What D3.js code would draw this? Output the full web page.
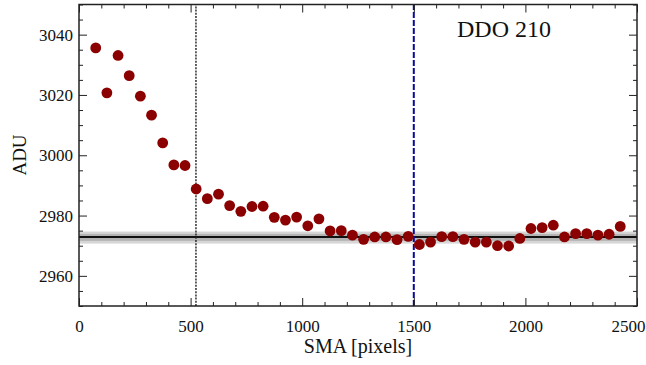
<!DOCTYPE html>
<html>
<head>
<meta charset="utf-8">
<script src="https://cdn.jsdelivr.net/npm/d3@7/dist/d3.min.js"></script>
<style>
  html, body { margin: 0; padding: 0; background: #fff; }
  svg { display: block; }
  svg text { font-family: "Liberation Serif", "Times New Roman", Tinos, Times, "DejaVu Serif", "Noto Serif", serif; fill: #111; }
</style>
</head>
<body>
<svg id="chart" width="646" height="365"></svg>
<script>
// Surface-brightness profile: semi-major axis (pixels) vs. measured level (ADU)
const sma = [75, 125, 175, 225, 275, 325, 375, 425, 475, 525,
             575, 625, 675, 725, 775, 825, 875, 925, 975, 1025,
             1075, 1125, 1175, 1225, 1275, 1325, 1375, 1425, 1475, 1525,
             1575, 1625, 1675, 1725, 1775, 1825, 1875, 1925, 1975, 2025,
             2075, 2125, 2175, 2225, 2275, 2325, 2375, 2425];
const adu = [3035.6, 3020.7, 3033.1, 3026.4, 3019.6, 3013.3, 3004.1, 2996.8, 2996.6, 2988.8,
             2985.6, 2987.1, 2983.3, 2981.4, 2983.0, 2983.1, 2979.4, 2978.5, 2979.5, 2976.6,
             2978.9, 2974.9, 2975.0, 2973.5, 2972.1, 2972.9, 2972.9, 2972.0, 2973.1, 2970.4,
             2971.2, 2973.0, 2973.0, 2972.1, 2971.2, 2971.2, 2970.0, 2969.9, 2972.4, 2975.7,
             2976.0, 2976.8, 2972.9, 2974.0, 2974.0, 2973.5, 2973.8, 2976.4];

// Sky level and its uncertainty bands
const skyLevel = 2972.9;
const skyOuter = [2970.7, 2974.7];
const skyInner = [2971.6, 2973.9];

// Reference radii
const innerRadius = 524;
const outerRadius = 1500;

const xMajorTicks = [0, 500, 1000, 1500, 2000, 2500];
const yMajorTicks = [2960, 2980, 3000, 3020, 3040];
const xDomain = [0, 2500];
const yDomain = [2950, 3050];
const title = "DDO 210";
const xTitle = "SMA [pixels]";
const yTitle = "ADU";

const margin = { left: 79, right: 9, top: 4.5, bottom: 59 };
const W = 646, H = 365;
const svg = d3.select("#chart");

const x = d3.scaleLinear().domain(xDomain).range([margin.left, W - margin.right]);
const y = d3.scaleLinear().domain(yDomain).range([H - margin.bottom, margin.top]);

const xMinor = d3.range(xDomain[0], xDomain[1] + 1, 100).filter(v => !xMajorTicks.includes(v));
const yMinor = d3.range(yDomain[0], yDomain[1] + 1, 5).filter(v => !yMajorTicks.includes(v));

// Sky bands
svg.append("rect")
  .attr("x", x(xDomain[0])).attr("width", x(xDomain[1]) - x(xDomain[0]))
  .attr("y", y(skyOuter[1])).attr("height", y(skyOuter[0]) - y(skyOuter[1]))
  .attr("fill", "#d6d6d6");
svg.append("rect")
  .attr("x", x(xDomain[0])).attr("width", x(xDomain[1]) - x(xDomain[0]))
  .attr("y", y(skyInner[1])).attr("height", y(skyInner[0]) - y(skyInner[1]))
  .attr("fill", "#b4b4b4");
svg.append("line")
  .attr("x1", x(xDomain[0])).attr("x2", x(xDomain[1]))
  .attr("y1", y(skyLevel)).attr("y2", y(skyLevel))
  .attr("stroke", "#111").attr("stroke-width", 2);

// Reference radii
svg.append("line")
  .attr("x1", x(innerRadius)).attr("x2", x(innerRadius))
  .attr("y1", y(yDomain[0])).attr("y2", y(yDomain[1]))
  .attr("stroke", "#222").attr("stroke-width", 1.4).attr("stroke-dasharray", "2,1.2");
svg.append("line")
  .attr("x1", x(outerRadius)).attr("x2", x(outerRadius))
  .attr("y1", y(yDomain[0])).attr("y2", y(yDomain[1]))
  .attr("stroke", "#0a0a9a").attr("stroke-width", 2).attr("stroke-dasharray", "6,2");

// Axes with inward ticks on all four sides
function styleAxis(g) {
  g.attr("font-family", null);
  g.select(".domain").remove();
  g.selectAll(".tick line").attr("stroke", "#222").attr("stroke-width", 1);
}
const major = 8, minor = 4;

svg.append("g").attr("transform", `translate(0,${y(yDomain[0])})`)
  .call(d3.axisBottom(x).tickValues(xMajorTicks).tickSize(-major).tickPadding(major + 6).tickFormat(d3.format("d")))
  .call(styleAxis)
  .call(g => g.selectAll("text").attr("font-size", 17).attr("fill", "#111"))
  // keep the last label inside the canvas
  .call(g => g.selectAll(".tick").filter(d => d === xDomain[1]).select("text")
    .attr("text-anchor", "end").attr("x", W - 1 - x(xDomain[1])));
svg.append("g").attr("transform", `translate(0,${y(yDomain[0])})`)
  .call(d3.axisBottom(x).tickValues(xMinor).tickSize(-minor).tickFormat(""))
  .call(styleAxis);
svg.append("g").attr("transform", `translate(0,${y(yDomain[1])})`)
  .call(d3.axisTop(x).tickValues(xMajorTicks).tickSize(-major).tickFormat(""))
  .call(styleAxis);
svg.append("g").attr("transform", `translate(0,${y(yDomain[1])})`)
  .call(d3.axisTop(x).tickValues(xMinor).tickSize(-minor).tickFormat(""))
  .call(styleAxis);

svg.append("g").attr("transform", `translate(${x(xDomain[0])},0)`)
  .call(d3.axisLeft(y).tickValues(yMajorTicks).tickSize(-major).tickPadding(6).tickFormat(d3.format("d")))
  .call(styleAxis)
  .call(g => g.selectAll("text").attr("font-size", 17).attr("fill", "#111"));
svg.append("g").attr("transform", `translate(${x(xDomain[0])},0)`)
  .call(d3.axisLeft(y).tickValues(yMinor).tickSize(-minor).tickFormat(""))
  .call(styleAxis);
svg.append("g").attr("transform", `translate(${x(xDomain[1])},0)`)
  .call(d3.axisRight(y).tickValues(yMajorTicks).tickSize(-major).tickFormat(""))
  .call(styleAxis);
svg.append("g").attr("transform", `translate(${x(xDomain[1])},0)`)
  .call(d3.axisRight(y).tickValues(yMinor).tickSize(-minor).tickFormat(""))
  .call(styleAxis);

// Profile points
svg.append("g").selectAll("circle")
  .data(sma.map((s, i) => ({ s, v: adu[i] })))
  .join("circle")
  .attr("cx", d => x(d.s)).attr("cy", d => y(d.v))
  .attr("r", 5.4)
  .attr("fill", "#8b0000");

// Frame
svg.append("rect")
  .attr("x", x(xDomain[0])).attr("y", y(yDomain[1]))
  .attr("width", x(xDomain[1]) - x(xDomain[0]))
  .attr("height", y(yDomain[0]) - y(yDomain[1]))
  .attr("fill", "none").attr("stroke", "#222").attr("stroke-width", 1.5);

// Labels
svg.append("text")
  .attr("x", 504).attr("y", 37)
  .attr("text-anchor", "middle").attr("font-size", 24)
  .text(title);
svg.append("text")
  .attr("x", (x(xDomain[0]) + x(xDomain[1])) / 2).attr("y", 353)
  .attr("text-anchor", "middle").attr("font-size", 20)
  .text(xTitle);
svg.append("text")
  .attr("transform", `translate(26,155) rotate(-90)`)
  .attr("text-anchor", "middle").attr("font-size", 19)
  .text(yTitle);
</script>
</body>
</html>
